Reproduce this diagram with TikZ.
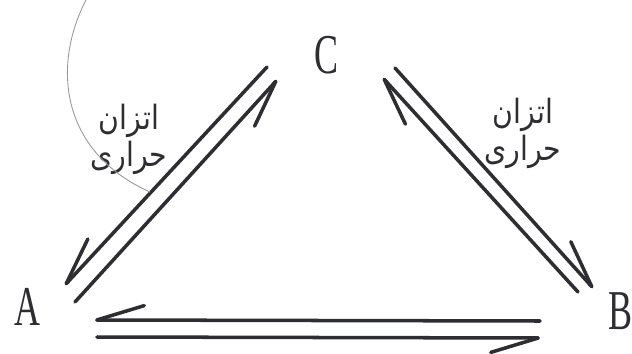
\documentclass[tikz,border=0pt]{standalone}
\usepackage{fontspec}
\setmainfont{Liberation Serif}
\newfontfamily\letterfont[FakeStretch=0.64]{Liberation Serif}
\newfontfamily\arabicfont[Script=Arabic,FakeStretch=0.85]{DejaVu Sans}
\TeXXeTstate=1
\usetikzlibrary{arrows.meta}
\definecolor{inkGray}{RGB}{45,45,50}
\tikzset{
  vertex/.style={font=\letterfont\fontsize{32}{32}\selectfont, text=inkGray, inner sep=0pt},
  harp/.style={-{Straight Barb[right,length=0.95cm,width=0.58cm,round]},
    line width=2pt, color=inkGray, line cap=round},
  harpL/.style={harp, -{Straight Barb[left,length=0.95cm,width=0.58cm,round]}}
}

\begin{document}
\begin{tikzpicture}[
    lbl/.style={font=\arabicfont\fontsize{19}{21}\selectfont, text=inkGray, align=center}
  ]
  \useasboundingbox (0,0) rectangle (12.64,7.06);

  \node[vertex] (A) at (0.54,0.92) {A};
  \node[vertex] (B) at (12.41,0.84) {B};
  \node[vertex] (C) at (6.52,5.96) {C};

  \coordinate (ca1) at (5.34,5.72);
  \coordinate (ac1) at (1.30,1.36);
  \coordinate (ac2) at (1.50,1.02);
  \coordinate (ca2) at (5.54,5.46);
  \coordinate (cb1) at (7.90,5.70);
  \coordinate (bc1) at (11.86,1.30);
  \coordinate (bc2) at (11.56,1.22);
  \coordinate (cb2) at (7.66,5.50);
  \coordinate (ba1) at (10.80,0.64);
  \coordinate (ab1) at (1.90,0.66);
  \coordinate (ab2) at (1.94,0.32);
  \coordinate (ba2) at (10.80,0.30);

  \draw[harp] (ca1) -- (ac1);
  \draw[harp] (ac2) -- (ca2);
  \draw[harpL] (cb1) -- (bc1);
  \draw[harpL] (bc2) -- (cb2);
  \draw[harp] (ba1) -- (ab1);
  \draw[harp] (ab2) -- (ba2);

  \node[lbl] (heatL) at (2.58,4.28) {\beginR اتزان\endR\\\beginR حراری\endR};
  \node[lbl] (heatR) at (10.46,4.40) {\beginR اتزان\endR\\\beginR حراری\endR};

  \coordinate (arcTop) at (1.74,7.10);
  \coordinate (arcEnd) at (3.00,3.22);
  \draw[gray!80, line width=0.5pt] (arcTop) .. controls (1.00,5.70) and (1.25,4.00) .. (arcEnd);
\end{tikzpicture}
\end{document}
